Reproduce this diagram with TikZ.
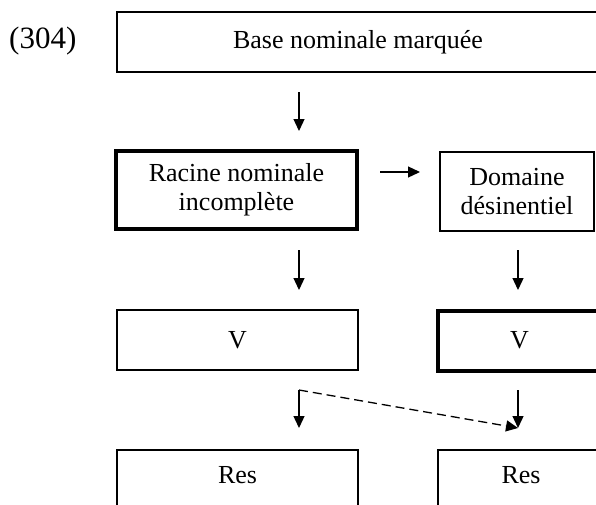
\documentclass[tikz,border=0pt]{standalone}
\usepackage{fontspec}
\setmainfont{Liberation Serif}
\usetikzlibrary{arrows.meta}
\begin{document}
\begin{tikzpicture}[x=1pt,y=-1pt,
  box/.style={draw, line width=1.3pt, inner sep=0pt, outer sep=0pt, align=center,
    font=\fontsize{26}{29}\selectfont},
  thickbox/.style={box, line width=4pt},
  arr/.style={line width=1.3pt, -{Triangle[length=12pt,width=11pt]}},
  dasharr/.style={arr, dash pattern=on 9pt off 5pt}]
\useasboundingbox (0,0) rectangle (596,504);
\clip (0,0) rectangle (596,504);
\node[font=\fontsize{31}{34}\selectfont, anchor=base west, inner sep=0pt] (num) at (9,48) {(304)};
\node[box, text height=18pt, text depth=6pt, minimum width=482pt, minimum height=60pt] (top) at (358,42) {Base nominale marquée};
\node[thickbox, minimum width=241pt, minimum height=78pt] (rac) at (236.5,190) {Racine nominale\\incomplète};
\node[box, minimum width=154pt, minimum height=79pt] (dom) at (517,191.5) {Domaine\\désinentiel};
\node[box, minimum width=241pt, minimum height=60pt] (v1) at (237.5,340) {V};
\node[thickbox, minimum width=163pt, minimum height=60pt] (v2) at (519.5,340.5) {V};
\node[box, text height=33pt, text depth=47pt, minimum width=166pt, anchor=north] (res2) at (521,450) {Res};
\node[box, text height=33pt, text depth=47pt, minimum width=241pt, anchor=north] (res1) at (237.5,450) {Res};
\coordinate (a1s) at (299,92);  \coordinate (a1e) at (299,131);
\coordinate (a2s) at (380,172); \coordinate (a2e) at (420,172);
\coordinate (a3s) at (299,250); \coordinate (a3e) at (299,290);
\coordinate (a4s) at (518,250); \coordinate (a4e) at (518,290);
\coordinate (a5s) at (299,390); \coordinate (a5e) at (299,428);
\coordinate (a6s) at (518,390); \coordinate (a6e) at (518,428);
\draw[arr] (a1s) -- (a1e);
\draw[arr] (a2s) -- (a2e);
\draw[arr] (a3s) -- (a3e);
\draw[arr] (a4s) -- (a4e);
\draw[arr] (a5s) -- (a5e);
\draw[arr] (a6s) -- (a6e);
\draw[dasharr] (a5s) -- (a6e);
\end{tikzpicture}
\end{document}
